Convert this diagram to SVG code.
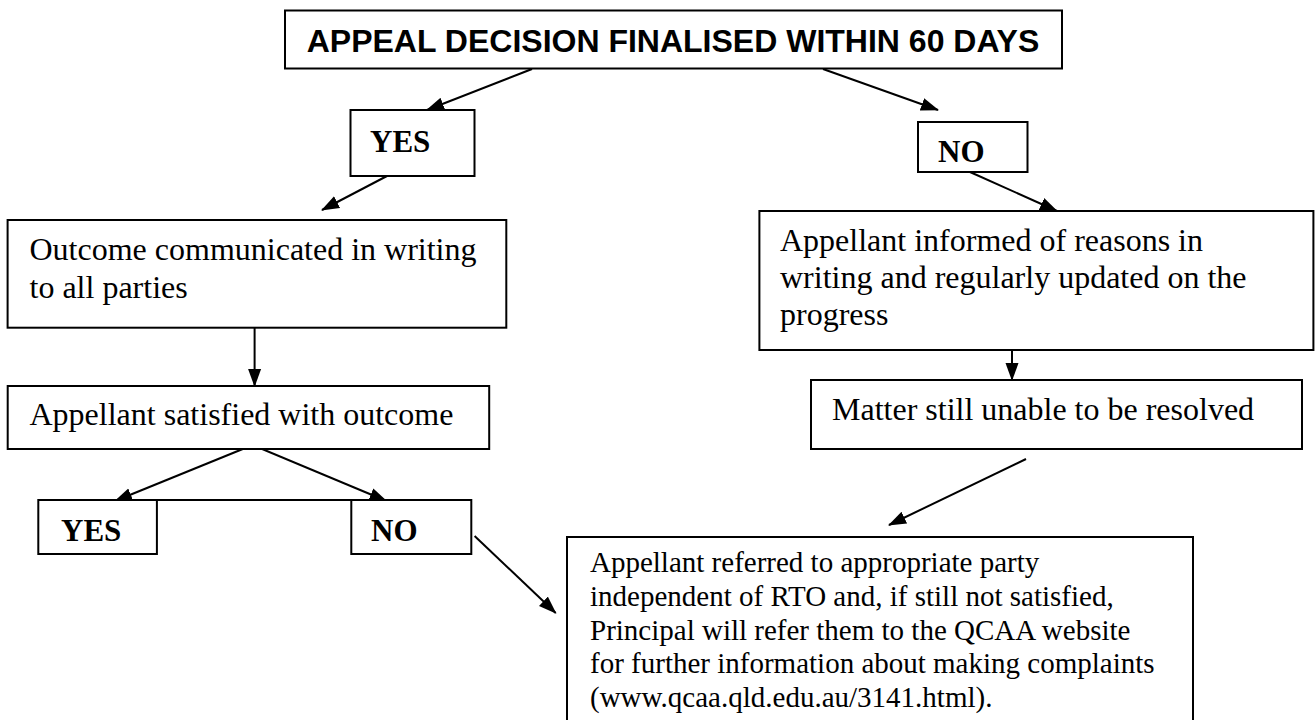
<svg xmlns="http://www.w3.org/2000/svg" width="1315" height="720" viewBox="0 0 1315 720">
<defs>
<marker id="ah" markerUnits="userSpaceOnUse" markerWidth="18" markerHeight="14" refX="17" refY="7" orient="auto">
<path d="M0,0.5 L18,7 L0,13.5 Z" fill="#000"/>
</marker>
<style>
.box{fill:#fff;stroke:#000;stroke-width:2}
.t{font-family:"Liberation Serif","Times New Roman",serif;font-size:32px;fill:#000}
.ts{font-family:"Liberation Serif","Times New Roman",serif;font-size:29px;fill:#000}
.tb{font-family:"Liberation Serif","Times New Roman",serif;font-size:31px;font-weight:bold;fill:#000}
.h{font-family:"Liberation Sans",Arial,sans-serif;font-size:32px;font-weight:bold;fill:#000}
.c{stroke:#000;stroke-width:2;fill:none;marker-end:url(#ah)}
.p{stroke:#000;stroke-width:2;fill:none}
</style>
</defs>
<rect width="1315" height="720" fill="#fff"/>
<g id="connectors">
<line class="c" x1="532" y1="69" x2="427" y2="110"/>
<line class="c" x1="823" y1="69" x2="938" y2="110"/>
<line class="c" x1="387" y1="176" x2="322" y2="210"/>
<line class="c" x1="970" y1="172" x2="1057" y2="211"/>
<line class="c" x1="254.6" y1="328" x2="254.6" y2="386"/>
<line class="c" x1="1012" y1="350" x2="1012" y2="380"/>
<line class="c" x1="252.6" y1="445" x2="115" y2="501"/>
<line class="c" x1="252.6" y1="445" x2="386.5" y2="501"/>
<line class="c" x1="474.6" y1="536" x2="555.7" y2="613"/>
<line class="c" x1="1026" y1="459" x2="889" y2="525"/>
<line class="p" x1="156.9" y1="500" x2="351.3" y2="500"/>
</g>
<g id="title">
<rect class="box" x="285" y="10.5" width="777" height="58"/>
<text class="h" x="673" y="52" text-anchor="middle">APPEAL DECISION FINALISED WITHIN 60 DAYS</text>
</g>
<g id="yes1">
<rect class="box" x="350.5" y="110" width="124" height="66"/>
<text class="tb" x="370" y="152">YES</text>
</g>
<g id="no1">
<rect class="box" x="918" y="122" width="109.5" height="50"/>
<text class="tb" x="938" y="162">NO</text>
</g>
<g id="outcome">
<rect class="box" x="7.6" y="220" width="498.7" height="107.7"/>
<text class="t" x="29.5" y="260">Outcome communicated in writing</text>
<text class="t" x="29.5" y="298">to all parties</text>
</g>
<g id="informed">
<rect class="box" x="759.4" y="211" width="554" height="139"/>
<text class="t" x="780" y="251">Appellant informed of reasons in</text>
<text class="t" x="780" y="288">writing and regularly updated on the</text>
<text class="t" x="780" y="325">progress</text>
</g>
<g id="matter">
<rect class="box" x="811" y="380" width="491" height="69"/>
<text class="t" x="832" y="420">Matter still unable to be resolved</text>
</g>
<g id="satisfied">
<rect class="box" x="7.7" y="386" width="481.5" height="63"/>
<text class="t" x="29.5" y="425">Appellant satisfied with outcome</text>
</g>
<g id="yes2">
<rect class="box" x="38.3" y="500" width="118.6" height="54"/>
<text class="tb" x="61" y="541">YES</text>
</g>
<g id="no2">
<rect class="box" x="351.3" y="500" width="120" height="54"/>
<text class="tb" x="371" y="541">NO</text>
</g>
<g id="referred">
<rect class="box" x="567" y="537" width="626" height="200"/>
<text class="ts" x="590" y="572">Appellant referred to appropriate party</text>
<text class="ts" x="590" y="606">independent of RTO and, if still not satisfied,</text>
<text class="ts" x="590" y="640">Principal will refer them to the QCAA website</text>
<text class="ts" x="590" y="673">for further information about making complaints</text>
<text class="ts" x="590" y="707">(www.qcaa.qld.edu.au/3141.html).</text>
</g>
</svg>
